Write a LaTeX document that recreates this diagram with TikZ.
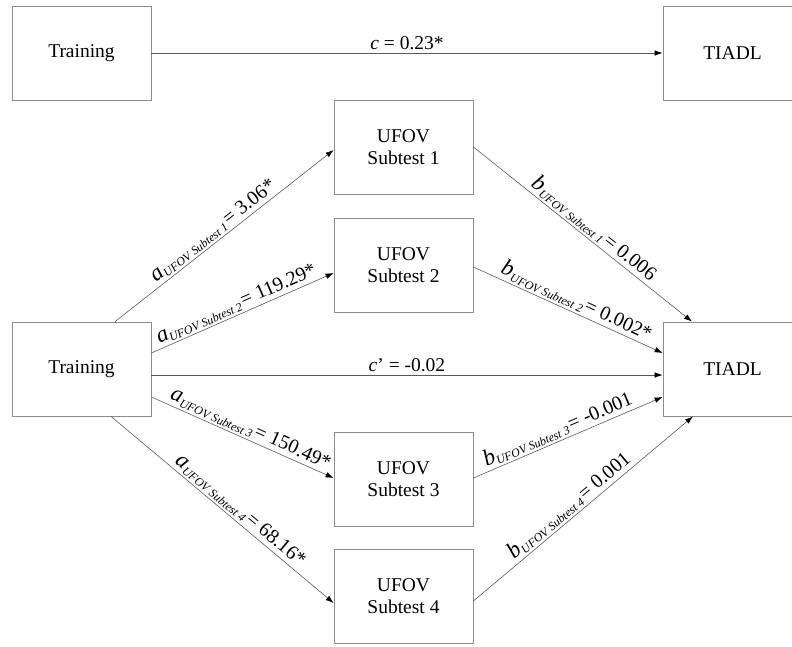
\documentclass[tikz,border=0pt]{standalone}
\usepackage{fontspec}
\setmainfont{Liberation Serif}
\usetikzlibrary{arrows.meta}
\definecolor{boxgray}{RGB}{140,140,140}
\definecolor{linegray}{RGB}{90,90,90}
\newcommand{\pathlab}[3]{{\fontsize{23}{24}\selectfont\itshape #1}\raisebox{-3pt}{\fontsize{12}{13}\selectfont\itshape UFOV Subtest #2}\,{\fontsize{20}{22}\selectfont= #3}}
\begin{document}
\begin{tikzpicture}[x=1pt,y=1pt,
  box/.style={draw=boxgray, line width=0.8pt, minimum width=139pt, minimum height=94pt,
    align=center, inner sep=0pt, font=\fontsize{19.5}{22}\selectfont},
  arr/.style={draw=linegray, line width=0.6pt, -{Latex[length=8pt,width=5.5pt,color=black]}},
  lab/.style={sloped, above, inner sep=2pt},
  plainlab/.style={above, inner sep=3pt, font=\fontsize{19.5}{22}\selectfont}]
\useasboundingbox (0,0) rectangle (792,-646);
% top row
\node[box] (T1) at (81.5,-53) {Training};
\node[box] (R1) at (732.5,-53) {TIADL};
\draw[arr] (T1.east) -- node[plainlab, pos=0.5] {\textit{c} = 0.23*} (R1.west);
% main model
\node[box] (T) at (81.5,-369) {Training};
\node[box] (R) at (732.5,-369) {TIADL};
\node[box] (U1) at (403.5,-147) {UFOV\\Subtest 1};
\node[box] (U2) at (403.5,-265.5) {UFOV\\Subtest 2};
\node[box] (U3) at (403.5,-479) {UFOV\\Subtest 3};
\node[box] (U4) at (403.5,-596.5) {UFOV\\Subtest 4};
% a paths
\draw[arr] ([xshift=33.5pt]T.north) -- node[lab, pos=0.48] {\pathlab{a}{1}{3.06*}} ([yshift=-3pt]U1.west);
\draw[arr] ([yshift=16pt]T.east) -- node[lab, pos=0.49] {\pathlab{a}{2}{119.29*}} ([yshift=-7.5pt]U2.west);
\draw[arr] ([yshift=-28pt]T.east) -- node[lab, pos=0.52] {\pathlab{a}{3}{150.49*}} ([yshift=1pt]U3.west);
\draw[arr] ([xshift=29.5pt]T.south) -- node[lab, pos=0.55] {\pathlab{a}{4}{68.16*}} ([yshift=-6.5pt]U4.west);
% direct path
\draw[arr] ([yshift=-6pt]T.east) -- node[plainlab, pos=0.5] {\textit{c}’ = -0.02} ([yshift=-6pt]R.west);
% b paths
\draw[arr] (U1.east) -- node[lab, pos=0.52] {\pathlab{b}{1}{0.006}} ([xshift=-40.5pt]R.north);
\draw[arr] ([yshift=-1.5pt]U2.east) -- node[lab, pos=0.52] {\pathlab{b}{2}{0.002*}} ([yshift=16pt]R.west);
\draw[arr] ([yshift=1pt]U3.east) -- node[lab, pos=0.47] {\pathlab{b}{3}{-0.001}} ([yshift=-28pt]R.west);
\draw[arr] ([yshift=-4.5pt]U4.east) -- node[lab, pos=0.47] {\pathlab{b}{4}{0.001}} ([xshift=-39.5pt]R.south);
\end{tikzpicture}
\end{document}
